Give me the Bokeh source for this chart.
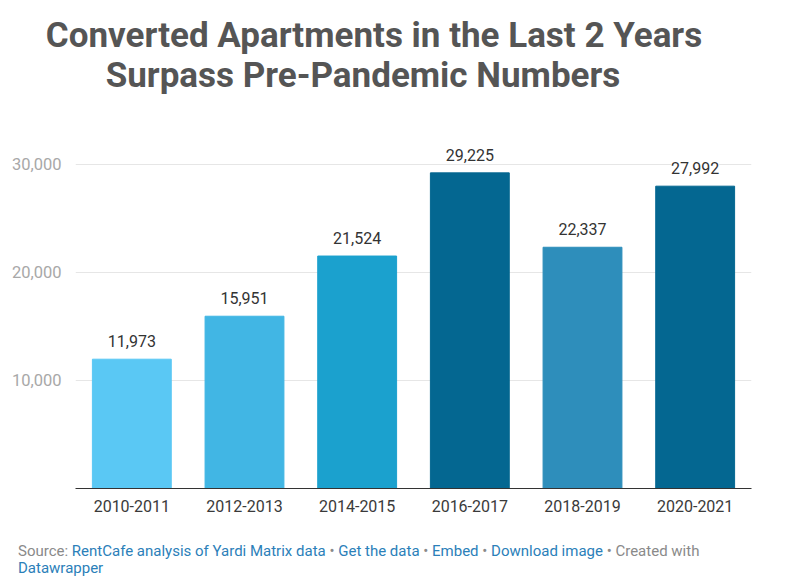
from bokeh.plotting import figure
from bokeh.models import ColumnDataSource, LabelSet, FixedTicker, NumeralTickFormatter, Div
from bokeh.core.properties import value
from bokeh.layouts import column
from bokeh.embed import file_html
from bokeh.resources import INLINE

periods = ["2010-2011", "2012-2013", "2014-2015", "2016-2017", "2018-2019", "2020-2021"]
units = [11973, 15951, 21524, 29225, 22337, 27992]
bar_colors = ["#5ac8f4", "#41b6e4", "#1ba1ce", "#046791", "#2e8ebb", "#046791"]
y_ticks = [10000, 20000, 30000]

title_lines = ["Converted Apartments in the Last 2 Years", "Surpass Pre-Pandemic Numbers"]

src = ColumnDataSource(dict(
    period=periods,
    units=units,
    color=bar_colors,
    label=[f"{v:,}" for v in units],
))

FONT = "Roboto"

title = Div(
    text=(
        f'<div style="font-family:{FONT};font-weight:bold;font-size:35px;color:#555555;line-height:40px;padding-top:16px">'
        f'<div style="text-align:center;width:748px">{title_lines[0]}</div>'
        f'<div style="text-align:center;width:726px">{title_lines[1]}</div>'
        '</div>'
    ),
    width=800, height=100, margin=0,
)

p = figure(
    x_range=periods, y_range=(0, 32222),
    width=800, height=440,
    output_backend="svg", toolbar_location=None,
    min_border_left=75, min_border_right=49, min_border_top=40, min_border_bottom=52,
)
p.vbar(x="period", top="units", width=0.7, color="color", source=src)

labels = LabelSet(
    x="period", y="units", text="label", source=src,
    text_align="center", text_baseline="alphabetic", y_offset=12,
    text_font=value(FONT), text_font_size="16px", text_color="#333333",
    background_fill_color="white",
)
p.add_layout(labels)

p.outline_line_color = None
p.xgrid.grid_line_color = None
p.ygrid.grid_line_color = "#e6e6e6"
p.ygrid.grid_line_width = 1

p.yaxis.ticker = FixedTicker(ticks=y_ticks)
p.yaxis.formatter = NumeralTickFormatter(format="0,0")
p.yaxis.axis_line_color = None
p.yaxis.major_tick_line_color = None
p.yaxis.minor_tick_line_color = None
p.yaxis.major_label_standoff = 8
p.yaxis.major_label_text_font = FONT
p.yaxis.major_label_text_font_size = "16.5px"
p.yaxis.major_label_text_color = "#a8a8a8"

p.xaxis.axis_line_color = "#333333"
p.xaxis.axis_line_width = 1
p.xaxis.major_tick_line_color = None
p.xaxis.minor_tick_line_color = None
p.xaxis.major_label_standoff = 5
p.xaxis.major_label_text_font = FONT
p.xaxis.major_label_text_font_size = "16px"
p.xaxis.major_label_text_color = "#3a3a3a"

blue = "#2b80b9"
gray = "#8a8a8a"
sep = f'<span style="color:{gray}"> • </span>'
footer = Div(
    text=(
        f'<div style="font-family:{FONT};font-size:15px;line-height:17px;padding-top:3px;padding-left:18px;color:{gray};white-space:nowrap">'
        f'Source: <span style="color:{blue}">RentCafe analysis of Yardi Matrix data</span>{sep}'
        f'<span style="color:{blue}">Get the data</span>{sep}'
        f'<span style="color:{blue}">Embed</span>{sep}'
        f'<span style="color:{blue}">Download image</span>'
        f'<span style="color:{gray}"> • Created with</span><br>'
        f'<span style="color:{blue}">Datawrapper</span>'
        '</div>'
    ),
    width=800, height=40, margin=0,
)

layout = column(title, p, footer, spacing=0)
open("out.html", "w").write(file_html(layout, INLINE))
